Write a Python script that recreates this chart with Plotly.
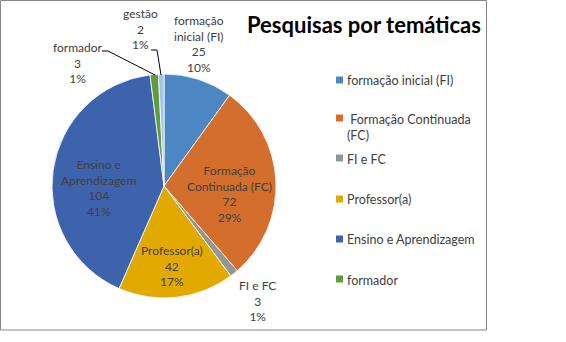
import plotly.graph_objects as go

W, H = 566, 342

# ---- data ----
labels = ["formação inicial (FI)", "Formação Continuada (FC)", "FI e FC",
          "Professor(a)", "Ensino e Aprendizagem", "formador", "gestão"]
values = [25, 72, 3, 42, 104, 3, 2]
colors = ["#4C87C3", "#D36E2C", "#959595", "#E2AA00", "#3E63AD", "#5E9C3E", "#A3C4E6"]
# how each data label's category text is wrapped
label_lines = ["formação<br>inicial (FI)", "Formação<br>Continuada (FC)", "FI e FC",
               "Professor(a)", "Ensino e<br>Aprendizagem", "formador", "gestão"]
# legend entries (as shown: gestão is cut off from the legend)
legend_labels = ["formação inicial (FI)", " Formação Continuada<br>(FC)", "FI e FC",
                 "Professor(a)", "Ensino e Aprendizagem", "formador"]
title = "Pesquisas por temáticas"

total = sum(values)
pcts = [round(v / total * 100) for v in values]

FONT = "Lato, 'Open Sans', sans-serif"
TXT = "#404040"

# pie geometry (pixels)
cx, cy, r = 164, 186, 112

def px(x):
    return x / W

def py(y):
    return 1 - y / H

fig = go.Figure(go.Pie(
    labels=labels, values=values, sort=False, direction="clockwise", rotation=0,
    marker=dict(colors=colors, line=dict(color="white", width=0.8)),
    textinfo="none", hoverinfo="label+value+percent", showlegend=False,
    domain=dict(x=[px(cx - r), px(cx + r)], y=[py(cy + r), py(cy - r)]),
))

# data label positions (pixel centers of each label block)
label_pos = [(199, 44), (229, 194), (257, 301), (172, 266), (98, 188), (78, 63), (140, 29)]

annotations = []
for i in range(len(values)):
    x, y = label_pos[i]
    annotations.append(dict(
        x=px(x), y=py(y), xref="paper", yref="paper", xanchor="center", yanchor="middle",
        text=f"{label_lines[i]}<br>{values[i]}<br>{pcts[i]}%", showarrow=False,
        font=dict(family=FONT, size=12, color=TXT), align="center"))

# title
annotations.append(dict(x=px(364), y=py(25), xref="paper", yref="paper",
                        xanchor="center", yanchor="middle", text=f"<b>{title}</b>",
                        showarrow=False, font=dict(family=FONT, size=22, color="black")))

shapes = []
# leader lines for small outside labels
for pts in [[(102, 51), (108, 51), (155, 75)], [(151, 50), (157, 50), (161, 75)]]:
    path = "M " + " L ".join(f"{px(a)},{py(b)}" for a, b in pts)
    shapes.append(dict(type="path", path=path, xref="paper", yref="paper",
                       line=dict(color="black", width=1)))

# legend (manual)
leg_y = [80, 118, 158, 199, 239, 279]
for i, lab in enumerate(legend_labels):
    y = leg_y[i]
    shapes.append(dict(type="rect", xref="paper", yref="paper",
                       x0=px(336), x1=px(343), y0=py(y + 3.5), y1=py(y - 3.5),
                       fillcolor=colors[i], line=dict(width=0)))
    annotations.append(dict(x=px(345), y=py(y - 8.5), xref="paper", yref="paper",
                            xanchor="left", yanchor="top", text=lab, showarrow=False,
                            align="left", font=dict(family=FONT, size=12.5, color=TXT)))

# chart border
shapes.append(dict(type="rect", xref="paper", yref="paper",
                   x0=px(0.5), x1=px(486.5), y0=py(330), y1=py(0.5),
                   line=dict(color="#878787", width=1), fillcolor="rgba(0,0,0,0)"))

fig.update_layout(
    width=W, height=H, margin=dict(l=0, r=0, t=0, b=0),
    paper_bgcolor="white", plot_bgcolor="white",
    annotations=annotations, shapes=shapes, showlegend=False,
)

fig.write_html("out.html")
